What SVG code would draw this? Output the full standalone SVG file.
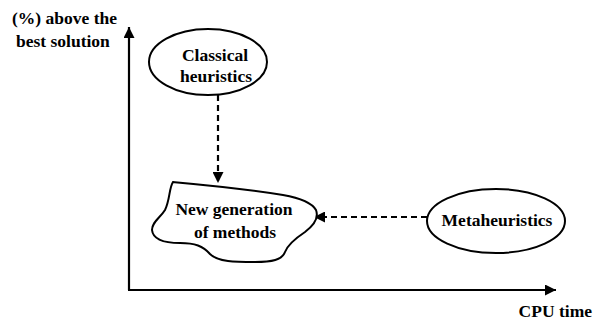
<svg xmlns="http://www.w3.org/2000/svg" width="596" height="323" viewBox="0 0 596 323">
<defs>
<marker id="ah" viewBox="0 0 10 10" refX="10" refY="5" markerWidth="5" markerHeight="5" orient="auto" markerUnits="strokeWidth"><path d="M0,0 L10,5 L0,10 Z" fill="#000"/></marker>
</defs>
<style>
.t{font-family:"Liberation Serif","Times New Roman",serif;font-size:17.5px;font-weight:bold;fill:#000}
.s{fill:#fff;stroke:#000;stroke-width:2}
.d{stroke:#000;stroke-width:2.2;stroke-dasharray:6 4;fill:none}
.ax{stroke:#000;stroke-width:2.2;fill:none}
</style>
<rect width="596" height="323" fill="#fff"/>
<g id="axes">
<path class="ax" d="M129,290 V27" marker-end="url(#ah)"/>
<path class="ax" d="M128,290 H556" marker-end="url(#ah)"/>
<text class="t" x="12" y="24">(%) above the</text>
<text class="t" x="16" y="47">best solution</text>
<text class="t" x="592" y="317" text-anchor="end">CPU time</text>
</g>
<g id="connectors">
<path class="d" d="M218,95 V183" marker-end="url(#ah)"/>
<path class="d" d="M427,217 H314" marker-end="url(#ah)"/>
</g>
<g id="classical">
<ellipse class="s" cx="208" cy="62" rx="59" ry="33"/>
<text class="t" x="215" y="61" text-anchor="middle">Classical</text>
<text class="t" x="216" y="82" text-anchor="middle">heuristics</text>
</g>
<g id="newgen">
<path class="s" d="M173,182 C195,184 240,188 283,195 C300,198 312,203 316,210 C319,218 313,226 305,232 C296,238 288,244 285,252 C282,260 272,262 255,262 C235,262 218,262 210,254 C203,246 195,243 180,243 C165,243 153,240 152,230 C152,222 160,218 165,210 C170,200 169,188 173,182 Z"/>
<text class="t" x="234" y="215" text-anchor="middle">New generation</text>
<text class="t" x="235" y="238" text-anchor="middle">of methods</text>
</g>
<g id="meta">
<ellipse class="s" cx="496" cy="221" rx="69" ry="32"/>
<text class="t" x="497" y="226" text-anchor="middle">Metaheuristics</text>
</g>
</svg>
